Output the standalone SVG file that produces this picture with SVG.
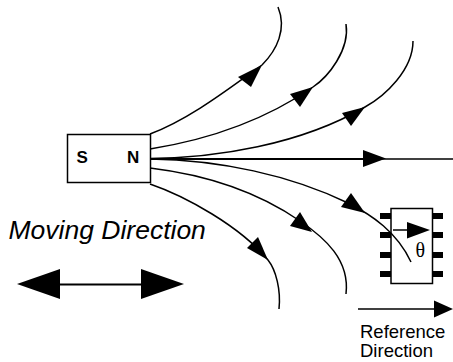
<svg xmlns="http://www.w3.org/2000/svg" width="453" height="362" viewBox="0 0 453 362">
<style>
.l{fill:none;stroke:#000;stroke-width:1.5}
.t{fill:#000;stroke:none}
text{font-family:"Liberation Sans",Arial,sans-serif;fill:#000}
</style>
<g id="connectors">
<path class="l" d="M150 134C192 118 232 86 262 65C277 50 287 29 278 7"/>
<path class="l" d="M150 149C200 141 258 125 313 87C328 77 350 50 346 24"/>
<path class="l" d="M150 158.500C215 158 300 145 365 107C385 96 413 70 413 41"/>
<path class="l" d="M150 159H453"/>
<path d="M150 159H370" fill="none" stroke="#000" stroke-width="2"/>
<path class="l" d="M150 159C220 160 290 175 348 203C372 215 397 232 411 262"/>
<path class="l" d="M150 168C200 174 255 190 300 221C325 238 350 260 346 294"/>
<path class="l" d="M150 184C185 196 240 226 268 260C276 270 281 290 279 309"/>
<polygon class="t" points="262,65 238,77 251,87"/>
<polygon class="t" points="313,87 290,94 300,107"/>
<polygon class="t" points="365,107 342,113 351,126"/>
<polygon class="t" points="386,158.500 363,150 363,167"/>
<polygon class="t" points="365,213 351,193 341,207"/>
<polygon class="t" points="312,232 300,212 290,226"/>
<polygon class="t" points="268,260 258,237 247,248"/>
</g>
<g id="magnet">
<rect x="67.500" y="134.500" width="83" height="48" fill="#fff" stroke="#000" stroke-width="1.500"/>
<text x="76.500" y="162.500" font-size="17" font-weight="bold">S</text>
<text x="127" y="162.500" font-size="17" font-weight="bold">N</text>
</g>
<g id="sensor">
<rect x="391" y="208.500" width="41.500" height="75" fill="none" stroke="#000" stroke-width="1.500"/>
<rect class="t" x="380" y="213" width="11" height="6"/><rect class="t" x="380" y="232" width="11" height="6"/><rect class="t" x="380" y="252" width="11" height="6"/><rect class="t" x="380" y="271" width="11" height="6"/>
<rect class="t" x="433" y="213" width="10" height="6"/><rect class="t" x="433" y="232" width="10" height="6"/><rect class="t" x="433" y="252" width="10" height="6"/><rect class="t" x="433" y="271" width="10" height="6"/>
<path class="l" d="M393 230H412"/>
<polygon class="t" points="430,230 407,222 407,238.500"/>
<text x="415.500" y="257" font-size="20" style="font-family:'Liberation Serif','DejaVu Serif',serif">θ</text>
</g>
<g id="reference">
<path class="l" d="M358 309H437"/>
<polygon class="t" points="453,309 434,300.500 434,317.500"/>
<text x="360" y="337.500" font-size="18.500">Reference</text>
<text x="360" y="356.500" font-size="18.500">Direction</text>
</g>
<g id="moving">
<text x="8.500" y="239" font-size="26.500" font-style="italic">Moving Direction</text>
<path d="M58 284.500H142" fill="none" stroke="#000" stroke-width="2"/>
<polygon class="t" points="17,284 60,269 60,299"/>
<polygon class="t" points="184,284 141,269 141,299"/>
</g>
</svg>
